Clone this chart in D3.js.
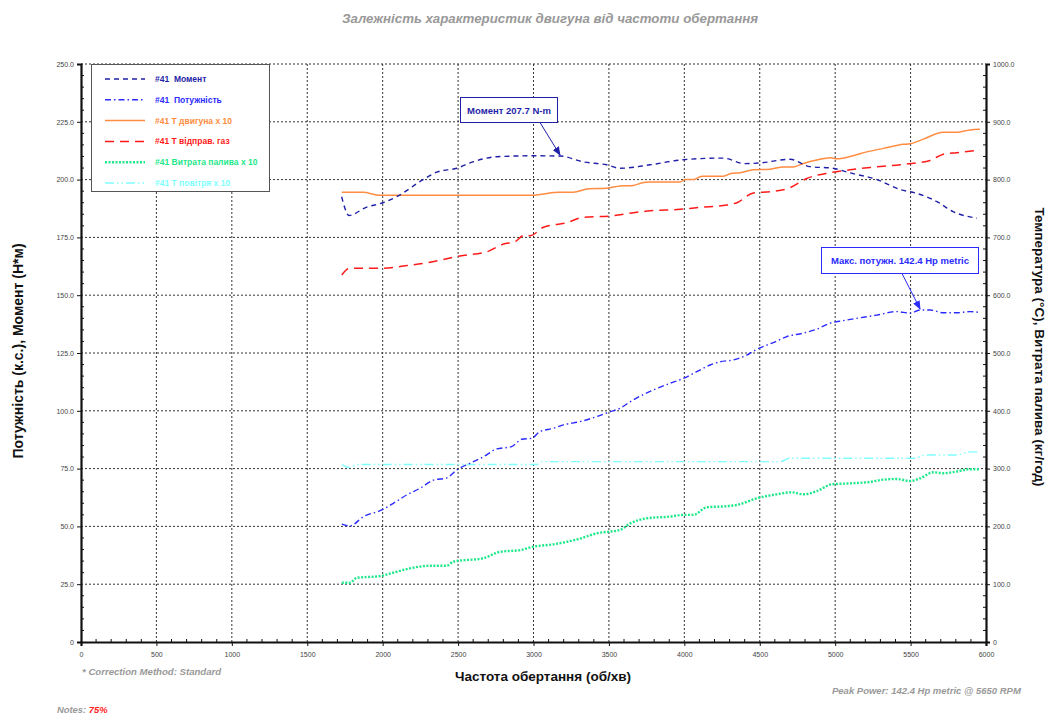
<!DOCTYPE html>
<html>
<head>
<meta charset="utf-8">
<script src="https://cdn.jsdelivr.net/npm/d3@7/dist/d3.min.js"></script>
<style>
  body { margin: 0; background: #fff; }
  svg { font-family: "Liberation Sans", Arial, sans-serif; }
  .grid line { stroke: #333; stroke-dasharray: 2,2; stroke-width: 1; }
  .tick text { fill: #444; font-size: 7px; }
</style>
</head>
<body>
<div id="chart"></div>
<script>
// ---- data (rpm, value) ----
var torque = [[1728,192.6],[1777,184.5],[1890,188],[2002,190],[2093,192.6],[2268,200],[2358,203.2],[2491,204.9],
  [2599,207.7],[2756,209.9],[2997,210.3],[3176,210.2],[3328,207.7],[3485,206.4],[3574,204.9],[3773,206.4],
  [3991,208.6],[4256,209.3],[4402,206.9],[4502,207.2],[4701,208.8],[4833,205.6],[4986,204.9],[5099,202.9],
  [5278,200],[5430,195.7],[5543,194],[5675,190.5],[5781,186.2],[5940,183.3]];
var power = [[1729,51],[1783,50.2],[1872,54.2],[1994,57.1],[2071,60],[2159,63.6],[2248,66.5],[2336,70],[2425,71],
  [2491,74.4],[2579,77.3],[2667,80.1],[2756,83.5],[2855,84.5],[2922,87.7],[2988,88.1],[3043,91],[3131,92.4],
  [3198,93.9],[3308,95.3],[3419,97.5],[3507,99.6],[3574,101.1],[3640,103.9],[3794,109],[3905,111.9],[3993,114],
  [4082,116.9],[4171,119.8],[4237,121.2],[4325,122],[4414,124.1],[4480,126.6],[4590,129.5],[4679,132.1],
  [4789,133.6],[4878,135.3],[4966,137.9],[5054,139],[5143,140],[5276,141.4],[5408,142.9],[5496,142.2],
  [5563,143.6],[5629,143.6],[5717,142.4],[5806,142.4],[5894,142.9],[5949,142.6]];
var engineTemp = [[1729,778],[1872,778],[1972,773],[2115,773],[3000,773],[3065,775],[3165,778],[3264,778],
  [3364,784],[3485,785],[3574,789],[3662,790],[3728,795],[3773,796],[3972,796],[4005,800],[4060,800],
  [4116,806],[4259,806],[4314,811],[4370,812],[4458,817],[4568,818],[4657,822],[4723,822],[4790,828],
  [4878,834],[4966,838],[5011,836],[5099,840],[5210,848],[5320,854],[5453,861],[5496,862],[5585,870],
  [5717,882],[5806,882],[5894,886],[5960,887]];
var exhaustTemp = [[1729,635],[1779,646.5],[2005,646.5],[2138,650.5],[2292,656],[2425,663],[2513,668],
  [2690,675],[2801,688.6],[2878,692.6],[2934,703],[2978,703],[3066,717.5],[3221,725.5],[3331,734.8],
  [3508,737],[3662,742.7],[3773,746],[3972,748.6],[4105,752],[4282,756],[4348,760],[4458,777],[4568,779],
  [4701,786],[4812,802],[4966,812],[5099,817],[5232,821],[5408,825],[5541,829],[5629,833],[5717,844],
  [5806,846.6],[5960,851]];
var fuel = [[1729,102.6],[1783,102.6],[1828,111],[1983,114],[2071,120],[2182,127.5],[2315,132],[2425,132],
  [2469,139],[2667,145],[2778,156],[2911,159],[3000,165],[3132,169],[3309,179],[3420,188],[3574,194],
  [3640,205],[3751,214],[3905,217],[3993,220],[4060,220],[4148,233],[4281,235],[4347,237],[4480,248.6],
  [4612,255.5],[4712,259],[4789,255.5],[4878,261],[4977,272.8],[5099,274.5],[5232,277],[5320,281],
  [5408,282],[5496,278.5],[5563,283],[5651,293.6],[5717,292],[5806,295],[5894,299],[5960,299]];
var airTemp = [[1729,307],[1783,302],[1828,307],[3021,307],[3054,312],[4635,312],[4701,318],[5518,318],
  [5607,323.5],[5806,323.5],[5894,329],[5960,329]];

var xTicks = [0,500,1000,1500,2000,2500,3000,3500,4000,4500,5000,5500,6000];
var leftTicks = [0,25,50,75,100,125,150,175,200,225,250];
var rightTicks = [0,100,200,300,400,500,600,700,800,900,1000];

var series = [
  { name: "#41\u00a0\u00a0Момент", data: torque, axis: "L", color: "#1f1fa8", dash: "5,4", width: 1.4 },
  { name: "#41\u00a0\u00a0Потужність", data: power, axis: "L", color: "#2b2bff", dash: "6,3,1.5,3", width: 1.4 },
  { name: "#41 Т двигуна х 10", data: engineTemp, axis: "R", color: "#ff8c40", dash: null, width: 1.5 },
  { name: "#41 Т відправ. газ", data: exhaustTemp, axis: "R", color: "#ff1a1a", dash: "9,6", width: 1.5 },
  { name: "#41 Витрата палива х 10", data: fuel, axis: "R", color: "#1de88a", dash: "2,1.5", width: 2.4 },
  { name: "#41 Т повітря х 10", data: airTemp, axis: "R", color: "#80ffff", dash: "9,3,1.5,3,1.5,3", width: 1.4 }
];

var width = 1050, height = 715;
var margin = { top: 64, right: 64, bottom: 73, left: 81 };

var svg = d3.select('#chart').append('svg')
  .attr('width', width)
  .attr('height', height);

var x = d3.scaleLinear().domain([0, 6000]).range([margin.left, width - margin.right]);
var yL = d3.scaleLinear().domain([0, 250]).range([height - margin.bottom, margin.top]);
var yR = d3.scaleLinear().domain([0, 1000]).range([height - margin.bottom, margin.top]);

// grid
var grid = svg.append('g').attr('class', 'grid');
grid.selectAll('.h').data(leftTicks.slice(1)).enter().append('line')
  .attr('x1', x(0)).attr('x2', x(6000))
  .attr('y1', function(d){ return yL(d); }).attr('y2', function(d){ return yL(d); });
grid.selectAll('.v').data(xTicks.slice(1, -1)).enter().append('line')
  .attr('x1', function(d){ return x(d); }).attr('x2', function(d){ return x(d); })
  .attr('y1', yL(0)).attr('y2', yL(250));

// axes
var fmt1 = function(d){ return d === 0 ? "0" : d3.format(".1f")(d); };
var axisL = svg.append('g').attr('transform', 'translate(' + x(0) + ',0)')
  .call(d3.axisLeft(yL).tickValues(leftTicks).tickFormat(fmt1).tickSize(4).tickPadding(3));
var axisR = svg.append('g').attr('transform', 'translate(' + x(6000) + ',0)')
  .call(d3.axisRight(yR).tickValues(rightTicks).tickFormat(fmt1).tickSize(4).tickPadding(3));
var axisB = svg.append('g').attr('transform', 'translate(0,' + yL(0) + ')')
  .call(d3.axisBottom(x).tickValues(xTicks).tickFormat(d3.format('d')).tickSize(4).tickPadding(6));
[axisL, axisR, axisB].forEach(function(a){
  a.select('.domain').attr('stroke', '#111').attr('stroke-width', 2.2);
  a.selectAll('.tick line').attr('stroke', '#111');
});

// minor ticks
var minorX = d3.range(100, 6000, 100).filter(function(d){ return d % 500; });
svg.append('g').selectAll('line').data(minorX).enter().append('line')
  .attr('x1', function(d){ return x(d); }).attr('x2', function(d){ return x(d); })
  .attr('y1', yL(0)).attr('y2', yL(0) - 3).attr('stroke', '#111');
var minorL = d3.range(5, 250, 5).filter(function(d){ return d % 25; });
svg.append('g').selectAll('line').data(minorL).enter().append('line')
  .attr('x1', x(0)).attr('x2', x(0) + 3)
  .attr('y1', function(d){ return yL(d); }).attr('y2', function(d){ return yL(d); }).attr('stroke', '#111');
var minorR = d3.range(20, 1000, 20).filter(function(d){ return d % 100; });
svg.append('g').selectAll('line').data(minorR).enter().append('line')
  .attr('x1', x(6000)).attr('x2', x(6000) - 3)
  .attr('y1', function(d){ return yR(d); }).attr('y2', function(d){ return yR(d); }).attr('stroke', '#111');

// lines
series.slice().reverse().forEach(function(s){
  var yy = s.axis === "L" ? yL : yR;
  var line = d3.line().curve(d3.curveMonotoneX)
    .x(function(d){ return x(d[0]); })
    .y(function(d){ return yy(d[1]); });
  svg.append('path').datum(s.data)
    .attr('fill', 'none')
    .attr('stroke', s.color)
    .attr('stroke-width', s.width)
    .attr('stroke-dasharray', s.dash)
    .attr('d', line);
});

// legend
var leg = svg.append('g');
leg.append('rect').attr('x', 91.5).attr('y', 64.5).attr('width', 178).attr('height', 127)
  .attr('fill', '#fff').attr('stroke', '#555').attr('stroke-width', 1);
series.forEach(function(s, i){
  var yy = 79 + i * 20.8;
  leg.append('line').attr('x1', 105).attr('x2', 145).attr('y1', yy).attr('y2', yy)
    .attr('stroke', s.color).attr('stroke-width', s.width).attr('stroke-dasharray', s.dash);
  leg.append('text').attr('x', 155).attr('y', yy + 3).text(s.name)
    .attr('fill', s.color).attr('font-size', 8.5).attr('font-weight', 'bold');
});

// annotations
var defs = svg.append('defs');
function marker(id, color) {
  defs.append('marker').attr('id', id).attr('viewBox', '0 0 10 10').attr('refX', 9).attr('refY', 5)
    .attr('markerWidth', 9).attr('markerHeight', 9).attr('orient', 'auto')
    .append('path').attr('d', 'M0,1 L10,5 L0,9 Z').attr('fill', color);
}
marker('arrT', '#1f1fa8');
marker('arrP', '#2b2bff');
function note(bx, by, bw, bh, label, color, ax, pt, yy, mk) {
  svg.append('line').attr('x1', ax).attr('y1', by + bh)
    .attr('x2', x(pt[0])).attr('y2', yy(pt[1]) - 1)
    .attr('stroke', color).attr('stroke-width', 1).attr('marker-end', 'url(#' + mk + ')');
  svg.append('rect').attr('x', bx).attr('y', by).attr('width', bw).attr('height', bh)
    .attr('fill', '#fff').attr('stroke', color).attr('stroke-width', 1);
  svg.append('text').attr('x', bx + bw / 2).attr('y', by + bh / 2 + 3.5).attr('text-anchor', 'middle')
    .attr('fill', color).attr('font-size', 9.5).attr('font-weight', 'bold').text(label);
}
note(460.5, 97.5, 97, 25, "Момент 207.7 N-m", "#1f1fa8", 540, [3176, 210.2], yL, 'arrT');
note(821.5, 247.5, 157, 26, "Макс. потужн. 142.4 Hp metric", "#2b2bff", 902, [5563, 143.6], yL, 'arrP');

// titles
svg.append('text').attr('x', 550).attr('y', 23).attr('text-anchor', 'middle')
  .attr('font-size', 13.3).attr('font-weight', 'bold').attr('font-style', 'italic').attr('fill', '#999')
  .text('Залежність характеристик двигуна від частоти обертання');
svg.append('text').attr('x', 543).attr('y', 681).attr('text-anchor', 'middle')
  .attr('font-size', 13.5).attr('font-weight', 'bold').attr('fill', '#111')
  .text('Частота обертання (об/хв)');
svg.append('text').attr('transform', 'translate(23,351) rotate(-90)').attr('text-anchor', 'middle')
  .attr('font-size', 14).attr('font-weight', 'bold').attr('fill', '#111')
  .text('Потужність (к.с.), Момент (Н*м)');
svg.append('text').attr('transform', 'translate(1035,347) rotate(90)').attr('text-anchor', 'middle')
  .attr('font-size', 13.5).attr('font-weight', 'bold').attr('fill', '#111')
  .text('Температура (°C), Витрата палива (кг/год)');

svg.append('text').attr('x', 82).attr('y', 675)
  .attr('font-size', 9.6).attr('font-weight', 'bold').attr('font-style', 'italic').attr('fill', '#999')
  .text('* Correction Method: Standard');
svg.append('text').attr('x', 832).attr('y', 694)
  .attr('font-size', 9.5).attr('font-weight', 'bold').attr('font-style', 'italic').attr('fill', '#999')
  .text('Peak Power: 142.4 Hp metric @ 5650 RPM');
var notes = svg.append('text').attr('x', 57).attr('y', 713)
  .attr('font-size', 9.4).attr('font-weight', 'bold').attr('font-style', 'italic');
notes.append('tspan').attr('fill', '#999').text('Notes: ');
notes.append('tspan').attr('fill', '#ff2020').text('75%');
</script>
</body>
</html>
